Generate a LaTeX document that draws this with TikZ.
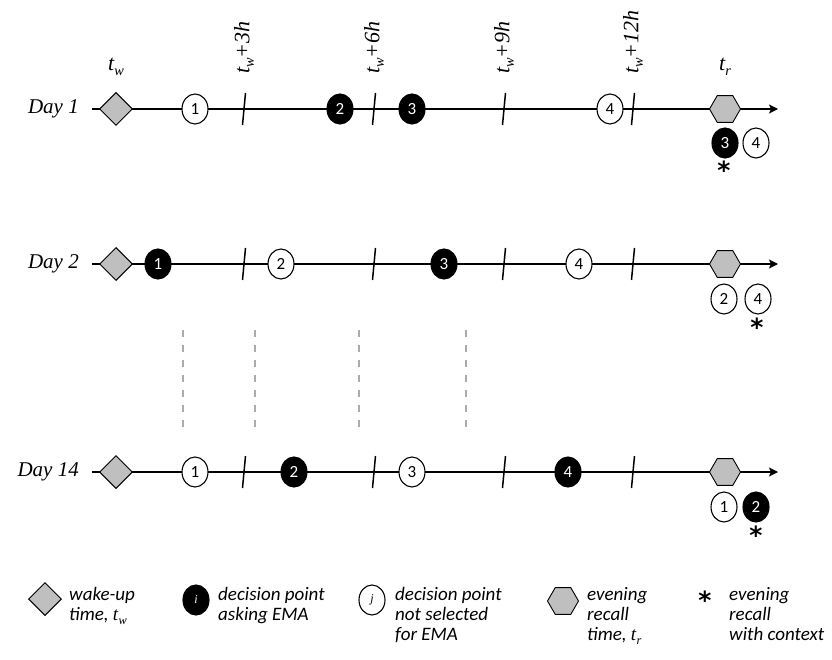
\documentclass[tikz,border=0pt]{standalone}
\usepackage{fontspec}
\setmainfont{Liberation Serif}
\newfontfamily\calfont{Carlito}
\usetikzlibrary{shapes.geometric,arrows.meta}

% italic time symbols t_w, t_r
\newcommand{\tsym}[1]{\textit{t}\raisebox{-0.45ex}{\fontsize{0.65em}{0.65em}\selectfont\textit{#1}}}

\tikzset{
  axis/.style={line width=1.5pt, -{Stealth[length=9pt,width=9pt,inset=2pt]}},
  tickmark/.style={line width=1.5pt},
  wake/.style={diamond, draw, line width=1pt, fill=black!25, minimum width=33, minimum height=33, inner sep=0},
  recall/.style={regular polygon, regular polygon sides=6, draw, line width=0.9pt, fill=black!25, minimum size=31, inner sep=0},
  dp/.style={ellipse, draw, line width=1.1pt, minimum width=26, minimum height=30, inner sep=0,
             font=\calfont\fontsize{17}{17}\selectfont},
  ema/.style={dp, fill=black, text=white},
  skip/.style={dp, fill=white},
  star/.style={font=\fontspec{DejaVu Sans}\bfseries\fontsize{25}{25}\selectfont, inner sep=0},
  daylbl/.style={anchor=east, font=\itshape\fontsize{21}{21}\selectfont, inner sep=0},
  hourlbl/.style={rotate=90, anchor=west, font=\itshape\fontsize{22}{22}\selectfont, inner sep=0},
  toplbl/.style={font=\itshape\fontsize{22}{22}\selectfont, inner sep=0},
  legtxt/.style={anchor=north west, align=left, inner sep=0,
                 font=\calfont\itshape\fontsize{19}{20}\selectfont},
  sep/.style={dash pattern=on 7pt off 8pt, line width=1.6pt, draw=black!33}
}

\begin{document}
\begin{tikzpicture}[x=1pt, y=-1pt]
\useasboundingbox (0,0) rectangle (832,660);

% column headings
\node[toplbl] (hw) at (116,67) {\tsym{w}};
\node[toplbl] (hr) at (725,67) {\tsym{r}};
\foreach \x/\h in {244/3,374/6,504/9,633/12}
  \node[hourlbl] (h\h) at (\x,74) {\tsym{w}+\h\textit{h}};

% one timeline per day: label, axis, hour ticks, wake-up and recall marks
\foreach \d/\y in {1/109, 2/264, 14/472} {
  \node[daylbl] (day\d) at (79,\y) {Day \d};
  \coordinate (s\d) at (92,\y);
  \coordinate (e\d) at (778,\y);
  \draw[axis] (s\d) -- (e\d);
  \foreach \x in {244,374,504,633}
    \draw[tickmark] (\x+1.5,\y-16) -- (\x-1.5,\y+16);
  \node[wake] (w\d) at (116,\y) {};
  \node[recall] (r\d) at (725,\y) {};
}

% Day 1 decision points
\node[skip] (a1) at (195,109) {1};
\node[ema]  (a2) at (340,109) {2};
\node[ema]  (a3) at (412,109) {3};
\node[skip] (a4) at (610,109) {4};
\node[ema]  (ar3) at (725,143) {3};
\node[skip] (ar4) at (756,143) {4};
\node[star] (as) at (724,170) {*};

% Day 2 decision points
\node[ema]  (b1) at (158,264) {1};
\node[skip] (b2) at (281,264) {2};
\node[ema]  (b3) at (444,264) {3};
\node[skip] (b4) at (579,264) {4};
\node[skip] (br2) at (724,299) {2};
\node[skip] (br4) at (758,299) {4};
\node[star] (bs) at (757,327) {*};

% days in between
\foreach \x in {183,255,359,466} {
  \coordinate (gt\x) at (\x,330);
  \coordinate (gb\x) at (\x,431);
  \draw[sep] (gt\x) -- (gb\x);
}

% Day 14 decision points
\node[skip] (c1) at (195,472) {1};
\node[ema]  (c2) at (294,472) {2};
\node[skip] (c3) at (412,472) {3};
\node[ema]  (c4) at (568,472) {4};
\node[skip] (cr1) at (724,507) {1};
\node[ema]  (cr2) at (756,507) {2};
\node[star] (cs) at (756,535) {*};

% legend
\node[wake] (lw) at (45,599) {};
\node[legtxt] (lwt) at (69,587) {wake-up\\time, {\normalfont\tsym{w}}};
\node[ema, font=\itshape\fontsize{12}{12}\selectfont] (le) at (196,600) {i};
\node[legtxt] (let) at (218,587) {decision point\\asking EMA};
\node[skip, font=\itshape\fontsize{12}{12}\selectfont] (ls) at (372,600) {j};
\node[legtxt] (lst) at (395,587) {decision point\\not selected\\for EMA};
\node[recall] (lr) at (563,601) {};
\node[legtxt] (lrt) at (587,587) {evening\\recall\\time, {\normalfont\tsym{r}}};
\node[star] (lc) at (705,600) {*};
\node[legtxt] (lct) at (729,587) {evening\\recall\\with context};
\end{tikzpicture}
\end{document}
